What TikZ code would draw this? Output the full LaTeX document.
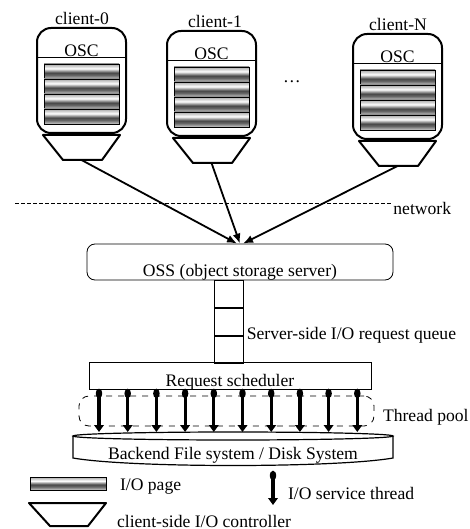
\documentclass[tikz,border=0pt]{standalone}
\usepackage{fontspec}
\setmainfont{Liberation Serif}
\usetikzlibrary{arrows.meta,positioning}
\pgfdeclareverticalshading{iopage}{100bp}{color(0bp)=(black!20); color(25bp)=(black!20); color(38bp)=(black!60); color(46bp)=(black!72); color(60bp)=(white); color(75bp)=(black!35); color(100bp)=(black!35)}

\begin{document}
\begin{tikzpicture}[x=0.5pt,y=-0.5pt,
font=\fontsize{8.8}{10}\selectfont,
client/.style = {line width=1pt, rounded corners=7pt},
iopage/.style = {draw, line width=0.4pt, shade, shading=iopage},
ctl/.style = {line width=1pt, line join=round},
flow/.style = {line width=0.9pt, -{Latex[length=5pt,width=4pt]}},
thread/.style = {line width=1.6pt, {Ellipse[length=4.5pt,width=3.2pt]}-{Triangle[length=3.5pt,width=4.8pt]}},
queue/.style = {draw, minimum width=14.5pt, minimum height=13.5pt, inner sep=0pt}]

\useasboundingbox (0,0) rectangle (470,529);

\foreach \cx/\cy/\lx/\n/\txt in {37/28/82/0/client-0, 167/31/215/1/client-1, 353/34/398/N/client-N}{
  \draw[client] (\cx,\cy) rectangle ++(89,105);
  \draw (\cx,\cy+29) -- ++(89,0);
  \node (lab\n) at (\lx,\cy-10) {\txt};
  \node (osc\n) at (\cx+44.5,\cy+23) {OSC};
  \foreach \k in {0,...,3}
    \draw[iopage] (\cx+7,\cy+36+15*\k) rectangle ++(75,15);
  \draw[ctl] (\cx+6,\cy+107) -- ++(77,0) -- ++(-18,25) -- ++(-39,0) -- cycle;
  \coordinate (ctl\n) at (\cx+44.5,\cy+132);
}
\node (dots) at (292,82) {\dots};

\draw[dash pattern=on 2pt off 1pt] (15,203) -- (391,203);
\node[anchor=west, inner sep=1pt] (net) at (391,208) {network};

\node[draw, rounded corners=4pt, minimum width=153pt, inner sep=2pt, text height=14pt, text depth=0pt] (oss) at (240,262) {OSS (object storage server)};
\draw[flow] (ctl0) -- ([xshift=-1.5pt]oss.north);
\draw[flow] (ctl1) -- (oss.north);
\draw[flow] (ctlN) -- ([xshift=1.5pt]oss.north);

\node[queue] (q1) at (228.5,294) {};
\node[queue, below=0pt of q1] (q2) {};
\node[queue, below=0pt of q2] (q3) {};
\node[anchor=west, inner sep=1.5pt] (qlab) at (q2.south east) {Server-side I/O request queue};

\node[draw, minimum width=141pt, inner sep=1pt, text height=11pt, text depth=0.5pt] (sched) at (230,375.5) {Request scheduler};
\node[draw, dashed, rounded corners=5pt, minimum width=147.5pt, minimum height=15pt] (pool) at (226.5,411) {};
\node[anchor=west] (plab) at (376,417) {Thread pool};
\foreach \i in {0,...,9}
  \draw[thread] (99+28.7*\i,389) -- (99+28.7*\i,432);

\draw[line width=0.6pt] (233,436) ellipse [x radius=160, y radius=4];
\draw[line width=0.6pt] (73,436) -- (73,458) .. controls (130,468) and (336,468) .. (393,458) -- (393,436);
\node (disk) at (233,455) {Backend File system / Disk System};

\draw[iopage] (30,477) rectangle (106,490);
\node[anchor=west] (lpage) at (113,487) {I/O page};
\draw[ctl] (29,503) -- (106,503) -- (88,526) -- (50,526) -- cycle;
\node[anchor=west] (lctl) at (110,521) {client-side I/O controller};
\draw[thread] (273,471) -- (273,505);
\node[anchor=west] (lthr) at (281,493) {I/O service thread};
\end{tikzpicture}
\end{document}
